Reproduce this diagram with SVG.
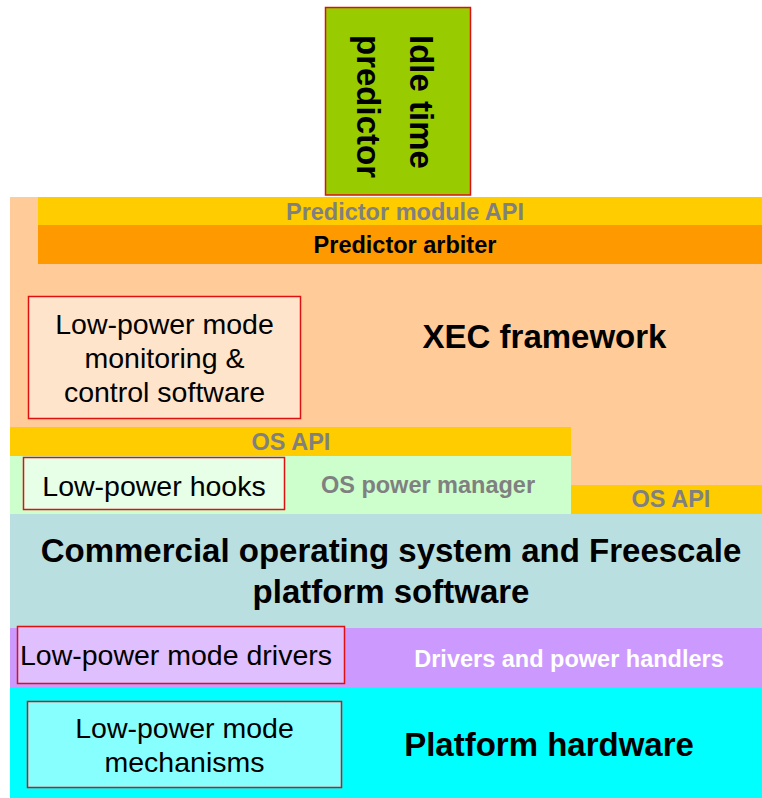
<svg xmlns="http://www.w3.org/2000/svg" width="762" height="798" viewBox="0 0 762 798">
<style>
.bold{font-family:"Liberation Sans",Arial,sans-serif;font-weight:bold}
.reg{font-family:"Liberation Sans",Arial,sans-serif;font-size:28.5px;fill:#000}
.lbl{font-size:23.5px;fill:#808080}
.big{font-size:33px;fill:#000}
.box{stroke:#DD1111;stroke-width:1.5}
text{text-anchor:middle}
</style>
<rect width="762" height="798" fill="#FFFFFF"/>
<g id="xec-framework">
<rect x="10" y="197" width="752" height="317" fill="#FFCC99"/>
<text class="bold big" x="544.5" y="348">XEC framework</text>
</g>
<g id="predictor-module-api">
<rect x="38" y="197" width="724" height="28" fill="#FFCC00"/>
<text class="bold lbl" x="405" y="220">Predictor module API</text>
</g>
<g id="predictor-arbiter">
<rect x="38" y="225" width="724" height="39" fill="#FF9900"/>
<text class="bold lbl" x="405" y="253" style="fill:#000">Predictor arbiter</text>
</g>
<g id="idle-time-predictor">
<rect class="box" x="325.5" y="7.5" width="145" height="187.5" fill="#99CC00"/>
<text class="bold big" transform="translate(410,35) rotate(90)" style="text-anchor:start">Idle time</text>
<text class="bold big" transform="translate(357,35) rotate(90)" style="text-anchor:start">predictor</text>
</g>
<g id="lp-monitoring">
<rect class="box" x="28.5" y="296.5" width="272" height="122" fill="#FFE4CC"/>
<text class="reg" x="164.5" y="334">Low-power mode</text>
<text class="reg" x="164.5" y="368">monitoring &amp;</text>
<text class="reg" x="164.5" y="402">control software</text>
</g>
<g id="os-api-left">
<rect x="10" y="427" width="561" height="29" fill="#FFCC00"/>
<text class="bold lbl" x="291" y="450">OS API</text>
</g>
<g id="os-power-manager">
<rect x="10" y="456" width="561" height="58" fill="#CCFFCC"/>
<text class="bold lbl" x="428" y="493">OS power manager</text>
</g>
<g id="lp-hooks">
<rect class="box" x="23.5" y="457.5" width="261" height="52" fill="#E6FFE6"/>
<text class="reg" x="154" y="496">Low-power hooks</text>
</g>
<g id="os-api-right">
<rect x="571" y="485" width="191" height="29" fill="#FFCC00"/>
<text class="bold lbl" x="671" y="507">OS API</text>
</g>
<g id="commercial-os">
<rect x="10" y="514" width="752" height="114" fill="#BADFE0"/>
<text class="bold big" x="391" y="562">Commercial operating system and Freescale</text>
<text class="bold big" x="391" y="603">platform software</text>
</g>
<g id="drivers">
<rect x="10" y="628" width="752" height="59" fill="#CC99FF"/>
<text class="bold lbl" x="569" y="667" style="fill:#FFFFFF">Drivers and power handlers</text>
</g>
<g id="lp-drivers">
<rect class="box" x="17.5" y="626.5" width="327" height="57" fill="#E0BFFF"/>
<text class="reg" x="176" y="665">Low-power mode drivers</text>
</g>
<g id="platform-hardware">
<rect x="10" y="687" width="752" height="111" fill="#00FFFF"/>
<text class="bold big" x="549" y="756">Platform hardware</text>
</g>
<g id="lp-mechanisms">
<rect class="box" x="27.5" y="701.5" width="314" height="86" fill="#88FFFF"/>
<text class="reg" x="184.5" y="738">Low-power mode</text>
<text class="reg" x="184.5" y="772">mechanisms</text>
</g>
<g id="connectors"></g>
</svg>
